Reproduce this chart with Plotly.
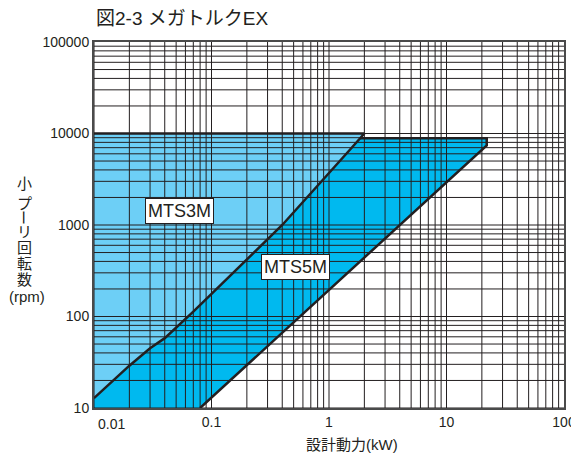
import numpy as np
import plotly.graph_objects as go

# boundary of MTS3M (kW, rpm)
mts3m_kw = [0.01, 0.02, 0.03, 0.04, 0.07, 0.4, 1.5, 2.0]
mts3m_rpm = [12.8, 29, 45, 58, 113, 1000, 6600, 10000]
mts3m_max_rpm = 10000

# MTS5M: upper side follows the MTS3M curve, capped at max rpm / max kW
mts5m_max_rpm = 8900
mts5m_max_kw = 22
mts5m_low_kw = [0.08, 22]
mts5m_low_rpm = [10, 7400]

x_ticks = [0.01, 0.1, 1, 10, 100]
x_ticktext = ["", "0.1", "1", "10", "100"]  # 0.01 is placed left-aligned below
y_ticks = [10, 100, 1000, 10000, 100000]
y_ticktext = ["10", "100", "1000", "10000", "100000"]

title_text = "図2-3 メガトルクEX"
x_title = "設計動力(kW)"
y_title_chars = ["小", "プ", "ー", "リ", "回", "転", "数", "(rpm)"]

FONT = "Liberation Sans, Arial, Noto Sans CJK JP, sans-serif"
INK = "#231f20"
LIGHT = "#6dcff6"
DEEP = "#00b9ef"

# page body has an 8px margin, so the figure is drawn that much smaller
OFF = 8
W, H = 579 - OFF, 454 - OFF

# where the MTS3M curve crosses the MTS5M rpm cap (log interpolation)
cross_kw = 10 ** np.interp(np.log10(mts5m_max_rpm), np.log10(mts3m_rpm), np.log10(mts3m_kw))
curve_kw = [k for k, r in zip(mts3m_kw, mts3m_rpm) if r < mts5m_max_rpm]
curve_rpm = [r for r in mts3m_rpm if r < mts5m_max_rpm]

fig = go.Figure()

# MTS3M area
fig.add_trace(go.Scatter(
    x=[mts3m_kw[0]] + mts3m_kw[::-1] + [mts3m_kw[0]],
    y=[mts3m_max_rpm] + mts3m_rpm[::-1] + [mts3m_max_rpm],
    fill="toself", fillcolor=LIGHT, mode="lines", line=dict(width=0),
))

# MTS5M area
p5_kw = [mts3m_kw[0]] + curve_kw + [cross_kw, mts5m_max_kw, mts5m_max_kw, mts5m_low_kw[0], mts3m_kw[0]]
p5_rpm = [y_ticks[0]] + curve_rpm + [mts5m_max_rpm, mts5m_max_rpm, mts5m_low_rpm[1], mts5m_low_rpm[0], y_ticks[0]]
fig.add_trace(go.Scatter(
    x=p5_kw, y=p5_rpm, fill="toself", fillcolor=DEEP, mode="lines", line=dict(width=0),
))

# log grid drawn over the coloured areas
gx, gy = [], []
decades_x = [0.01, 0.1, 1, 10]
decades_y = [10, 100, 1000, 10000]
for d in decades_x:
    for m in range(1, 10):
        gx += [m * d, m * d, None]
        gy += [y_ticks[0], y_ticks[-1], None]
for d in decades_y:
    for m in range(1, 10):
        gx += [x_ticks[0], x_ticks[-1], None]
        gy += [m * d, m * d, None]
fig.add_trace(go.Scatter(x=gx, y=gy, mode="lines", line=dict(color=INK, width=1)))

# outlines
fig.add_trace(go.Scatter(
    x=[mts3m_kw[0]] + mts3m_kw[::-1],
    y=[mts3m_max_rpm] + mts3m_rpm[::-1],
    mode="lines", line=dict(color=INK, width=2.5),
))
fig.add_trace(go.Scatter(
    x=[cross_kw, mts5m_max_kw, mts5m_max_kw, mts5m_low_kw[0]],
    y=[mts5m_max_rpm, mts5m_max_rpm, mts5m_low_rpm[1], mts5m_low_rpm[0]],
    mode="lines", line=dict(color=INK, width=2.5),
))

annotations = [
    dict(x=np.log10(0.0532), y=np.log10(1429), text="MTS3M", showarrow=False,
         font=dict(size=18, color=INK, family=FONT), bgcolor="white",
         bordercolor=INK, borderwidth=1, borderpad=2),
    dict(x=np.log10(0.519), y=np.log10(347), text="MTS5M", showarrow=False,
         font=dict(size=18, color=INK, family=FONT), bgcolor="white",
         bordercolor=INK, borderwidth=1, borderpad=2),
    dict(x=np.log10(x_ticks[0]), y=-0.044, yref="paper", text="0.01", showarrow=False,
         xanchor="left", xshift=2, yanchor="middle",
         font=dict(size=14, color=INK, family=FONT)),
    dict(x=0.549, y=(408 - 444) / 366, xref="paper", yref="paper", text=x_title,
         showarrow=False, xanchor="center", yanchor="middle",
         font=dict(size=15, color=INK, family=FONT)),
]
char_y = [183, 203, 217, 231, 247, 263, 279, 296]
char_x = [24, 24, 24, 24, 24, 24, 24, 27]
for ch, px, py in zip(y_title_chars, char_x, char_y):
    annotations.append(dict(
        x=(px - 94) / 470, y=(408 - py) / 366, xref="paper", yref="paper",
        xanchor="center", yanchor="middle",
        text=ch, showarrow=False, textangle=90 if ch == "ー" else 0,
        font=dict(size=15, color=INK, family=FONT),
    ))

fig.update_layout(
    width=W, height=H,
    margin=dict(l=94 - OFF, r=W - (564 - OFF), t=42 - OFF, b=H - (408 - OFF), autoexpand=False),
    paper_bgcolor="white", plot_bgcolor="white",
    showlegend=False, hovermode=False,
    title=dict(text=title_text, x=(96 - OFF) / W, xref="container", xanchor="left",
               y=1 - (18 - OFF) / H, yanchor="middle",
               font=dict(size=19, color=INK, family=FONT)),
    annotations=annotations,
)
fig.update_xaxes(
    type="log", range=[np.log10(x_ticks[0]), np.log10(x_ticks[-1])],
    tickvals=x_ticks, ticktext=x_ticktext, ticks="", showgrid=False,
    showline=True, mirror=True, linewidth=2, linecolor="#4a4a4a",
    tickfont=dict(size=14, color=INK, family=FONT), zeroline=False,
    automargin=False,
)
fig.update_yaxes(
    type="log", range=[np.log10(y_ticks[0]), np.log10(y_ticks[-1])],
    tickvals=y_ticks, ticktext=y_ticktext, ticks="", showgrid=False,
    showline=True, mirror=True, linewidth=2, linecolor="#4a4a4a",
    tickfont=dict(size=14, color=INK, family=FONT), zeroline=False,
    ticklabelstandoff=0, automargin=False,
)

fig.write_html("out.html")
